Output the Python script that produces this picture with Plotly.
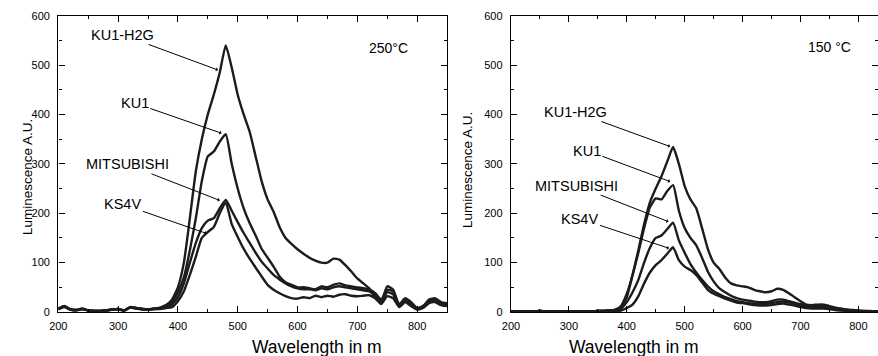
import plotly.graph_objects as go

# ---------------- data ----------------
WAVELENGTH = [200, 210, 220, 230, 240, 250, 260, 270, 280, 290,
              300, 310, 320, 330, 340, 350, 360, 370, 380, 390,
              400, 410, 420, 430, 440, 450, 460, 470, 480, 490,
              500, 510, 520, 530, 540, 550, 560, 570, 580, 590,
              600, 610, 620, 630, 640, 650, 660, 670, 680, 690,
              700, 710, 720, 730, 740, 750, 760, 770, 780, 790,
              800, 810, 820, 830, 840, 850]

# 250 °C panel
H2G_250 = [7, 12, 6, 4, 7, 3, 2, 2, 3, 5,
           6, 3, 10, 8, 6, 5, 7, 9, 14, 25,
           50, 100, 190, 285, 350, 400, 440, 485, 540, 495,
           440, 400, 365, 315, 265, 228, 203, 172, 150, 138,
           127, 118, 110, 104, 100, 100, 108, 106, 95, 82,
           68, 58, 48, 30, 22, 52, 45, 15, 28, 20,
           8, 12, 25, 28, 20, 18]
KU1_250 = [6, 11, 5, 4, 6, 3, 2, 2, 3, 5,
           6, 3, 9, 8, 6, 5, 6, 8, 12, 20,
           40, 70, 125, 190, 265, 315, 325, 345, 360, 300,
           250, 210, 180, 155, 128, 110, 92, 72, 60, 55,
           50, 50, 48, 46, 52, 50, 55, 58, 54, 52,
           50, 48, 46, 38, 25, 45, 42, 14, 26, 18,
           8, 12, 22, 26, 18, 16]
MITS_250 = [6, 11, 5, 4, 6, 3, 2, 2, 3, 5,
            6, 3, 9, 8, 6, 5, 6, 7, 10, 15,
            30, 58, 100, 140, 170, 185, 190, 210, 227, 205,
            182, 160, 140, 120, 102, 88, 75, 66, 58, 52,
            48, 46, 46, 44, 48, 46, 50, 52, 50, 48,
            46, 44, 42, 34, 20, 40, 36, 12, 22, 14,
            6, 10, 20, 22, 15, 14]
KS4V_250 = [5, 10, 5, 3, 6, 3, 2, 2, 3, 5,
            5, 3, 9, 7, 5, 5, 6, 6, 8, 10,
            22, 42, 75, 112, 150, 162, 172, 200, 222, 178,
            152, 128, 108, 90, 72, 55, 45, 38, 32, 28,
            27, 30, 28, 33, 30, 33, 31, 35, 36, 33,
            32, 33, 34, 28, 16, 32, 28, 10, 20, 12,
            5, 8, 18, 20, 14, 12]

# 150 °C panel
H2G_150 = [1, 1, 1, 1, 1, 2, 1, 1, 1, 1,
           1, 1, 1, 1, 1, 2, 2, 3, 5, 12,
           37, 75, 125, 178, 222, 250, 275, 305, 334, 300,
           255, 228, 210, 170, 128, 100, 87, 70, 58, 54,
           52, 50, 45, 42, 40, 42, 47, 45, 38, 30,
           22, 15, 14, 15, 15, 12, 9, 7, 5, 4,
           3, 2, 2, 1, 1, 1]
KU1_150 = [1, 1, 1, 1, 1, 2, 1, 1, 1, 1,
           1, 1, 1, 1, 1, 2, 2, 3, 4, 10,
           30, 75, 120, 170, 212, 230, 228, 245, 257, 205,
           170, 150, 135, 110, 82, 62, 48, 40, 33, 28,
           25, 23, 21, 20, 20, 22, 25, 25, 22, 19,
           16, 14, 13, 12, 12, 10, 8, 5, 4, 3,
           2, 2, 1, 1, 1, 1]
MITS_150 = [1, 1, 1, 1, 1, 2, 1, 1, 1, 1,
            1, 1, 1, 1, 1, 2, 2, 3, 3, 7,
            20, 40, 65, 100, 130, 150, 155, 168, 181, 145,
            120, 97, 80, 65, 52, 42, 36, 30, 26, 22,
            20, 18, 17, 16, 16, 18, 20, 21, 19, 16,
            13, 11, 10, 9, 9, 8, 6, 4, 3, 2,
            2, 1, 1, 1, 1, 1]
KS4V_150 = [1, 1, 1, 1, 1, 2, 1, 1, 1, 1,
            1, 1, 1, 1, 1, 2, 2, 2, 2, 3,
            8, 15, 32, 58, 80, 95, 105, 118, 131, 105,
            92, 85, 75, 60, 45, 37, 32, 27, 23, 19,
            18, 16, 14, 13, 13, 14, 16, 17, 15, 13,
            10, 8, 7, 7, 7, 6, 4, 3, 2, 2,
            1, 1, 1, 1, 1, 1]

SERIES_NAMES = ["KU1-H2G", "KU1", "MITSUBISHI", "KS4V"]
X_TICKS = [200, 300, 400, 500, 600, 700, 800]
Y_TICKS = [0, 100, 200, 300, 400, 500, 600]
PANEL_TITLES = ["250°C", "150 °C"]
X_TITLE = "Wavelength in m"
Y_TITLE = "Luminescence A.U."

# label positions (text centre, arrow tip) in data units
LABELS_250 = [("KU1-H2G", 308, 561, 467, 490),
              ("KU1", 328, 423, 473, 362),
              ("MITSUBISHI", 315, 299, 470, 226),
              ("KS4V", 308, 218, 448, 159)]
LABELS_150 = [("KU1-H2G", 311, 405, 475, 335),
              ("KU1", 331, 327, 475, 264),
              ("MITSUBISHI", 313, 256, 472, 183),
              ("KS4V", 319, 189, 473, 129)]

FONT = "Liberation Sans, Arial, sans-serif"
W, H = 878, 356

fig = go.Figure()
for ys in (H2G_250, KU1_250, MITS_250, KS4V_250):
    fig.add_trace(go.Scatter(x=WAVELENGTH, y=ys, mode="lines", xaxis="x", yaxis="y",
                             line=dict(color="#1c1c1c", width=2.4, shape="spline", smoothing=0.5),
                             showlegend=False, hoverinfo="skip"))
for ys in (H2G_150, KU1_150, MITS_150, KS4V_150):
    fig.add_trace(go.Scatter(x=WAVELENGTH, y=ys, mode="lines", xaxis="x2", yaxis="y2",
                             line=dict(color="#1c1c1c", width=2.4, shape="spline", smoothing=0.5),
                             showlegend=False, hoverinfo="skip"))

axis_common = dict(showline=True, linecolor="black", linewidth=1.4, mirror="ticks",
                   ticks="inside", ticklen=6, tickwidth=1.3, tickcolor="black",
                   showgrid=False, zeroline=False, automargin=False,
                   tickfont=dict(family=FONT, size=11, color="black"),
                   minor=dict(ticks="inside", ticklen=3, tickwidth=1, tickcolor="black", dtick=50))
x_common = dict(axis_common, ticklabelstandoff=4)
y_common = dict(axis_common, ticklabelstandoff=5)

ydom = [44 / H, (H - 15.7) / H]
fig.update_layout(
    template="none",
    width=W, height=H,
    margin=dict(l=0, r=0, t=0, b=0, pad=0),
    paper_bgcolor="white", plot_bgcolor="white",
    xaxis=dict(domain=[58.3 / W, 447 / W], range=[200, 850], tickvals=X_TICKS,
               anchor="y", **x_common),
    yaxis=dict(domain=ydom, range=[0, 600], tickvals=Y_TICKS, anchor="x", **y_common),
    xaxis2=dict(domain=[511 / W, 1.0], range=[200, 834], tickvals=X_TICKS,
                anchor="y2", **x_common),
    yaxis2=dict(domain=ydom, range=[0, 600], tickvals=Y_TICKS, anchor="x2", **y_common),
)

annotations = []
for labels, xr, yr in ((LABELS_250, "x", "y"), (LABELS_150, "x2", "y2")):
    for text, tx, ty, px, py in labels:
        annotations.append(dict(x=px, y=py, xref=xr, yref=yr, ax=tx, ay=ty, axref=xr, ayref=yr,
                                text=text, showarrow=True, arrowhead=1, arrowsize=0.7,
                                arrowwidth=1, arrowcolor="black", standoff=0,
                                font=dict(family=FONT, size=14.5, color="black")))
annotations.append(dict(x=752, y=535, xref="x", yref="y", text=PANEL_TITLES[0], showarrow=False,
                        font=dict(family=FONT, size=14, color="black")))
annotations.append(dict(x=751, y=536, xref="x2", yref="y2", text=PANEL_TITLES[1], showarrow=False,
                        font=dict(family=FONT, size=14, color="black")))
# axis titles
for xc in (250, 701):
    annotations.append(dict(x=xc / W, y=(H - 346.5) / H, xref="paper", yref="paper", text=X_TITLE,
                            showarrow=False, yanchor="middle",
                            font=dict(family=FONT, size=17.5, color="black")))
for xc, yc in ((17.5, 177), (468, 170)):
    annotations.append(dict(x=xc / W, y=(H - yc) / H, xref="paper", yref="paper",
                            text=Y_TITLE, showarrow=False, textangle=-90,
                            font=dict(family=FONT, size=13.5, color="black")))
fig.update_layout(annotations=annotations)

fig.write_html("out.html", config={"displayModeBar": False},
               post_script="document.body.style.margin='0';document.body.style.padding='0';")
